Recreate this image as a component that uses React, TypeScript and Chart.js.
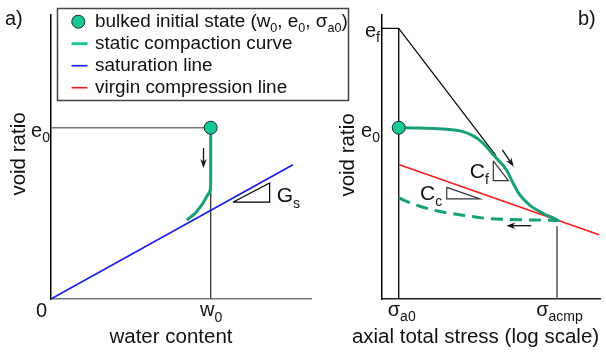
import { useEffect, useRef } from "react";
import { Chart, registerables } from "chart.js";

Chart.register(...registerables);

const FONT = '"Liberation Sans", Arial, Helvetica, sans-serif';
const INK = "#111";
const GREEN = "#14a078";
const GREEN_FILL = "#14c995";
const GREEN_KEY = "#22c497";
const BLUE = "#1a1aee";
const RED = "#ff1a1a";

// ---------- panel a: void ratio against water content (w0 = e0 = 1) ----------
const wRangeA = [0, 1.628];
const eRangeA = [0, 1.658];
const w0 = 1;
const e0 = 1;
const satW = [0, 1.515];
const satE = [0, 0.784];
const compactW = [1, 1, 1, 0.998, 0.993, 0.981, 0.962, 0.944, 0.902, 0.85];
const compactE = [1, 0.8, 0.68, 0.645, 0.625, 0.607, 0.577, 0.549, 0.5, 0.461];
const gsTriW = [1.139, 1.369, 1.369, 1.139];
const gsTriE = [0.565, 0.677, 0.565, 0.565];
const arrowAW = [0.955, 0.955];
const arrowAE = [0.881, 0.765];

// ---------- panel b: void ratio against axial total stress (log) ----------
const stressRangeB = [6.15, 3490];
const eRangeB = [0, 1.658];
const sigmaA0 = 10;
const sigmaAcmp = 1000;
const eF = 1.58;
const staticS = [10, 15.2, 36.3, 64.9, 85, 111, 164.8, 231, 280, 340, 456, 671, 900, 1050];
const staticE = [1.0, 0.999, 0.992, 0.977, 0.955, 0.918, 0.83, 0.752, 0.674, 0.606, 0.547, 0.499, 0.472, 0.458];
const unloadS = [10, 15.2, 29.9, 64.9, 141, 338, 700, 1050];
const unloadE = [0.59, 0.555, 0.515, 0.489, 0.469, 0.463, 0.46, 0.458];
const vclS = [10, 3400];
const vclE = [0.785, 0.375];
const tangentS = [10, 170];
const tangentE = [eF, 0.835];
const cfTriS = [156.7, 156.7, 242.7, 156.7];
const cfTriE = [0.807, 0.691, 0.691, 0.807];
const ccTriS = [40.4, 40.4, 106.4, 40.4];
const ccTriE = [0.652, 0.584, 0.584, 0.652];
const acmpTopE = 0.424;
const arrowB1S = [203.7, 283.8];
const arrowB1E = [0.87, 0.772];
const arrowB2S = [473, 228.6];
const arrowB2E = [0.428, 0.428];

type Seg = [string, boolean];

const pts = (xs: number[], ys: number[]) => xs.map((x, i) => ({ x, y: ys[i] }));

function line(xs: number[], ys: number[], color: string, width: number, extra: any = {}) {
  return {
    data: pts(xs, ys),
    showLine: true,
    borderColor: color,
    backgroundColor: color,
    borderWidth: width,
    pointRadius: 0,
    pointHoverRadius: 0,
    fill: false,
    tension: 0,
    borderJoinStyle: "miter",
    ...extra,
  };
}

function marker(x: number, y: number) {
  return {
    data: [{ x, y }],
    showLine: false,
    pointRadius: 6.5,
    pointHoverRadius: 6.5,
    pointBackgroundColor: GREEN_FILL,
    pointBorderColor: "#1b2b25",
    pointBorderWidth: 1,
    clip: false,
  };
}

function richWidth(ctx: CanvasRenderingContext2D, segs: Seg[], size: number, sub: number) {
  let w = 0;
  for (const [t, s] of segs) {
    ctx.font = `${s ? sub : size}px ${FONT}`;
    w += ctx.measureText(t).width;
  }
  return w;
}

function drawRich(
  ctx: CanvasRenderingContext2D,
  segs: Seg[],
  x: number,
  y: number,
  size: number,
  sub: number,
  align: "left" | "center" | "right" = "left"
) {
  ctx.save();
  ctx.fillStyle = INK;
  ctx.textAlign = "left";
  ctx.textBaseline = "alphabetic";
  const total = richWidth(ctx, segs, size, sub);
  let cx = align === "left" ? x : align === "center" ? x - total / 2 : x - total;
  for (const [t, s] of segs) {
    ctx.font = `${s ? sub : size}px ${FONT}`;
    ctx.fillText(t, cx, s ? y + size * 0.28 : y);
    cx += ctx.measureText(t).width;
  }
  ctx.restore();
}

function drawRotated(ctx: CanvasRenderingContext2D, text: string, x: number, y: number, size: number) {
  ctx.save();
  ctx.translate(x, y);
  ctx.rotate(-Math.PI / 2);
  ctx.font = `${size}px ${FONT}`;
  ctx.fillStyle = INK;
  ctx.textAlign = "center";
  ctx.textBaseline = "alphabetic";
  ctx.fillText(text, 0, 0);
  ctx.restore();
}

function drawArrow(chart: any, xs: number[], ys: number[]) {
  const { ctx } = chart;
  const sx = chart.scales.x;
  const sy = chart.scales.y;
  const x1 = sx.getPixelForValue(xs[0]);
  const y1 = sy.getPixelForValue(ys[0]);
  const x2 = sx.getPixelForValue(xs[1]);
  const y2 = sy.getPixelForValue(ys[1]);
  const ang = Math.atan2(y2 - y1, x2 - x1);
  const len = 9;
  const half = 3.2;
  ctx.save();
  ctx.strokeStyle = INK;
  ctx.fillStyle = INK;
  ctx.lineWidth = 1.3;
  ctx.beginPath();
  ctx.moveTo(x1, y1);
  ctx.lineTo(x2 - Math.cos(ang) * len * 0.6, y2 - Math.sin(ang) * len * 0.6);
  ctx.stroke();
  const bx = x2 - Math.cos(ang) * len;
  const by = y2 - Math.sin(ang) * len;
  ctx.beginPath();
  ctx.moveTo(x2, y2);
  ctx.lineTo(bx + Math.sin(ang) * half, by - Math.cos(ang) * half);
  ctx.lineTo(x2 - Math.cos(ang) * len * 0.7, y2 - Math.sin(ang) * len * 0.7);
  ctx.lineTo(bx - Math.sin(ang) * half, by + Math.cos(ang) * half);
  ctx.closePath();
  ctx.fill();
  ctx.restore();
}

function axes(xType: string, xMin: number, xMax: number, yMin: number, yMax: number, xBorder: string) {
  const common = {
    grid: { display: false, drawTicks: false },
    ticks: { display: false },
    title: { display: false },
  };
  return {
    x: { ...common, type: xType, min: xMin, max: xMax, border: { display: true, color: xBorder, width: 1.5 } },
    y: { ...common, type: "linear", min: yMin, max: yMax, border: { display: true, color: "#000", width: 1.5 } },
  };
}

const legendRows: { segs: Seg[]; kind: string; color: string; width: number }[] = [
  {
    segs: [
      ["bulked initial state (w", false],
      ["0", true],
      [", e", false],
      ["0", true],
      [", σ", false],
      ["a0", true],
      [")", false],
    ],
    kind: "point",
    color: GREEN_FILL,
    width: 0,
  },
  { segs: [["static compaction curve", false]], kind: "line", color: GREEN_KEY, width: 3 },
  { segs: [["saturation line", false]], kind: "line", color: BLUE, width: 1.6 },
  { segs: [["virgin compression line", false]], kind: "line", color: RED, width: 1.6 },
];

function makeConfigA(): any {
  const textPlugin = {
    id: "panelAText",
    afterDatasetsDraw(chart: any) {
      drawArrow(chart, arrowAW, arrowAE);
    },
    afterDraw(chart: any) {
      const { ctx, chartArea } = chart;
      const sx = chart.scales.x;
      const sy = chart.scales.y;
      drawRich(ctx, [["a)", false]], 5, 25, 20, 14);
      drawRich(ctx, [["0", false]], sx.getPixelForValue(0) - 9.5, chartArea.bottom + 17.5, 20, 14, "center");
      drawRich(ctx, [["w", false], ["0", true]], sx.getPixelForValue(w0) + 0.5, chartArea.bottom + 17, 20, 14, "center");
      drawRich(ctx, [["e", false], ["0", true]], chartArea.left - 1, sy.getPixelForValue(e0) + 9, 20, 14, "right");
      drawRich(
        ctx,
        [["G", false], ["s", true]],
        sx.getPixelForValue(gsTriW[1]) + 7,
        sy.getPixelForValue(gsTriE[0]),
        21,
        14
      );
      ctx.save();
      ctx.font = `20.5px ${FONT}`;
      ctx.fillStyle = INK;
      ctx.textAlign = "center";
      ctx.fillText("water content", chartArea.left + 120, 343);
      ctx.restore();
      drawRotated(ctx, "void ratio", 25, 154, 20.5);

      // legend box
      const bx = 57.5;
      const by = 8.5;
      const bw = 291;
      const bh = 92;
      ctx.save();
      ctx.fillStyle = "#fff";
      ctx.fillRect(bx, by, bw, bh);
      ctx.strokeStyle = "#444";
      ctx.lineWidth = 1.5;
      ctx.strokeRect(bx, by, bw, bh);
      legendRows.forEach((row, i) => {
        const cy = 21.7 + i * 22;
        if (row.kind === "point") {
          ctx.beginPath();
          ctx.arc(78.3, cy, 6.5, 0, Math.PI * 2);
          ctx.fillStyle = row.color;
          ctx.fill();
          ctx.lineWidth = 1;
          ctx.strokeStyle = "#1b2b25";
          ctx.stroke();
        } else {
          ctx.beginPath();
          ctx.moveTo(71.5, cy);
          ctx.lineTo(87.5, cy);
          ctx.lineWidth = row.width;
          ctx.strokeStyle = row.color;
          ctx.stroke();
        }
        drawRich(ctx, row.segs, 95, cy + 5.3, 18.9, 12.6);
      });
      ctx.restore();
    },
  };

  return {
    type: "scatter",
    data: {
      datasets: [
        marker(w0, e0),
        line(compactW, compactE, GREEN, 3, { tension: 0.25 }),
        line(satW, satE, BLUE, 1.6),
        line(gsTriW, gsTriE, "#000", 1.2),
        line([0, w0], [e0, e0], "#777", 1.5),
        line([w0, w0], [0, e0], "#333", 1.3),
      ],
    },
    options: {
      responsive: false,
      animation: false,
      events: [],
      layout: { autoPadding: false, padding: { left: 51, right: 49, top: 15, bottom: 57 } },
      plugins: { legend: { display: false }, tooltip: { enabled: false } },
      scales: axes("linear", wRangeA[0], wRangeA[1], eRangeA[0], eRangeA[1], "#777"),
    },
    plugins: [textPlugin],
  };
}

function makeConfigB(): any {
  const textPlugin = {
    id: "panelBText",
    afterDatasetsDraw(chart: any) {
      drawArrow(chart, arrowB1S, arrowB1E);
      drawArrow(chart, arrowB2S, arrowB2E);
    },
    afterDraw(chart: any) {
      const { ctx, chartArea } = chart;
      const sx = chart.scales.x;
      const sy = chart.scales.y;
      drawRich(ctx, [["b)", false]], 278, 25, 20, 14);
      drawRich(ctx, [["e", false], ["f", true]], chartArea.left - 2, sy.getPixelForValue(eF) + 8.5, 20, 14, "right");
      drawRich(ctx, [["e", false], ["0", true]], chartArea.left - 2, sy.getPixelForValue(e0) + 9, 20, 14, "right");
      drawRich(ctx, [["σ", false], ["a0", true]], sx.getPixelForValue(sigmaA0) + 3, chartArea.bottom + 16.5, 20, 14, "center");
      drawRich(ctx, [["σ", false], ["acmp", true]], sx.getPixelForValue(sigmaAcmp) + 2.5, chartArea.bottom + 16.5, 20, 14, "center");
      drawRich(
        ctx,
        [["C", false], ["f", true]],
        sx.getPixelForValue(cfTriS[0]) - 4.5,
        sy.getPixelForValue(cfTriE[1]) - 2.4,
        21,
        14,
        "right"
      );
      drawRich(
        ctx,
        [["C", false], ["c", true]],
        sx.getPixelForValue(ccTriS[0]) - 4.5,
        sy.getPixelForValue(ccTriE[1]) + 1,
        21,
        14,
        "right"
      );
      ctx.save();
      ctx.font = `20.5px ${FONT}`;
      ctx.fillStyle = INK;
      ctx.textAlign = "center";
      ctx.fillText("axial total stress (log scale)", 175.5, 343);
      ctx.restore();
      drawRotated(ctx, "void ratio", 54, 155, 20.5);
    },
  };

  return {
    type: "scatter",
    data: {
      datasets: [
        marker(sigmaA0, e0),
        line(staticS, staticE, GREEN, 3, { cubicInterpolationMode: "monotone" }),
        line(unloadS, unloadE, GREEN, 3, { cubicInterpolationMode: "monotone", borderDash: [12, 7] }),
        line(vclS, vclE, RED, 1.6),
        line(tangentS, tangentE, "#000", 1.2),
        line(cfTriS, cfTriE, "#333", 1.2),
        line(ccTriS, ccTriE, "#333", 1.2),
        line([stressRangeB[0], sigmaA0], [eF, eF], "#000", 1.2),
        line([sigmaA0, sigmaA0], [0, eF], "#000", 1.3),
        line([sigmaAcmp, sigmaAcmp], [0, acmpTopE], "#555", 1.5),
      ],
    },
    options: {
      responsive: false,
      animation: false,
      events: [],
      layout: { autoPadding: false, padding: { left: 82, right: 6, top: 15, bottom: 57 } },
      plugins: { legend: { display: false }, tooltip: { enabled: false } },
      scales: axes("logarithmic", stressRangeB[0], stressRangeB[1], eRangeB[0], eRangeB[1], "#222"),
    },
    plugins: [textPlugin],
  };
}

export default function App() {
  const aRef = useRef<HTMLCanvasElement>(null);
  const bRef = useRef<HTMLCanvasElement>(null);

  useEffect(() => {
    const a = new Chart(aRef.current as HTMLCanvasElement, makeConfigA());
    const b = new Chart(bRef.current as HTMLCanvasElement, makeConfigB());
    return () => {
      a.destroy();
      b.destroy();
    };
  }, []);

  return (
    <div style={{ position: "absolute", left: 0, top: 0, width: 606, height: 356, background: "#fff" }}>
      <canvas ref={aRef} width={360} height={356} style={{ position: "absolute", left: 0, top: 0 }} />
      <canvas ref={bRef} width={306} height={356} style={{ position: "absolute", left: 300, top: 0 }} />
    </div>
  );
}
